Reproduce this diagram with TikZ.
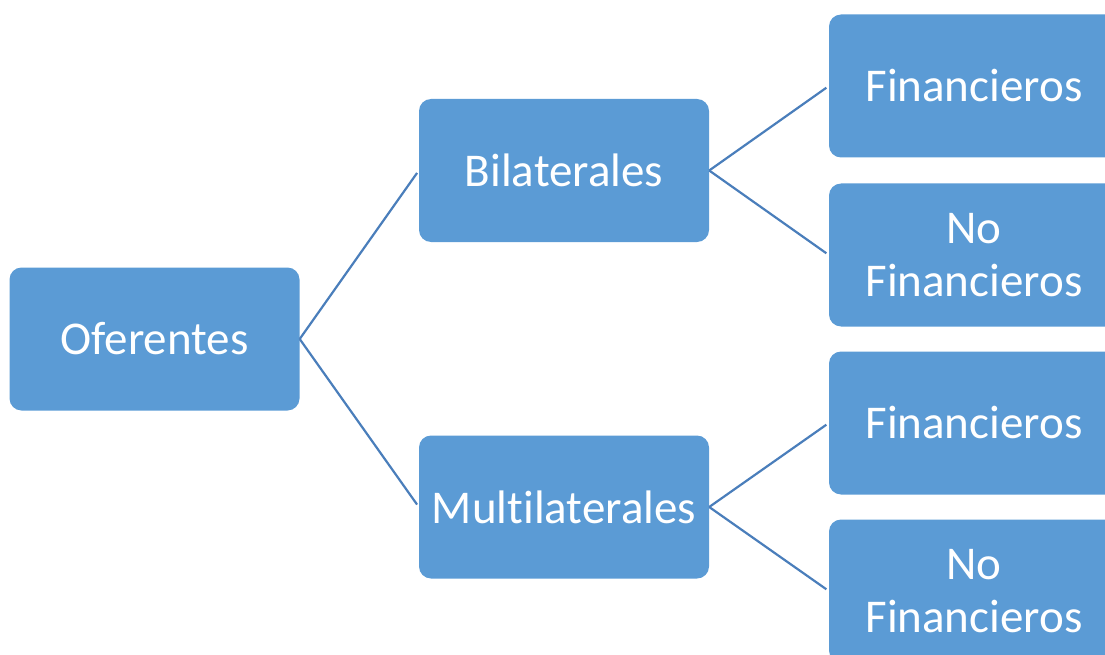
\documentclass[tikz,border=0pt]{standalone}
\usepackage{fontspec}
\setmainfont[Ligatures={NoCommon}]{Carlito}
\usetikzlibrary{positioning}

\definecolor{boxblue}{HTML}{5B9BD5}
\definecolor{linkblue}{HTML}{4A7EBB}

\tikzset{
  levelbox/.style={rectangle, rounded corners=12pt, fill=boxblue, text=white,
    minimum width=290pt, minimum height=143pt, inner sep=0pt, align=center,
    font=\fontsize{47}{53}\selectfont},
  link/.style={draw=linkblue, line width=2.2pt, shorten >=3pt}
}

\begin{document}
\begin{tikzpicture}[x=1pt, y=-1pt]
  \useasboundingbox (0, 0) rectangle (1105, 655);
  \clip (0, 0) rectangle (1105, 655);

  \node[levelbox] (oferentes) at (154.5, 339) {Oferentes};
  \node[levelbox] (bilat) at (564, 170.5) {Bilaterales};
  \node[levelbox] (multi) at (564, 507) {Multilaterales};

  \node[levelbox] (bfin) at (974, 86) {Financieros};
  \node[levelbox] (bnofin) at (974, 255) {No\\Financieros};
  \node[levelbox] (mfin) at (974, 423) {Financieros};
  \node[levelbox] (mnofin) at (974, 591) {No\\Financieros};

  \foreach \a / \b in {oferentes/bilat, oferentes/multi, bilat/bfin, bilat/bnofin,
                       multi/mfin, multi/mnofin} {
    \draw[link] (\a.east) -- (\b.west);
  }
\end{tikzpicture}
\end{document}
